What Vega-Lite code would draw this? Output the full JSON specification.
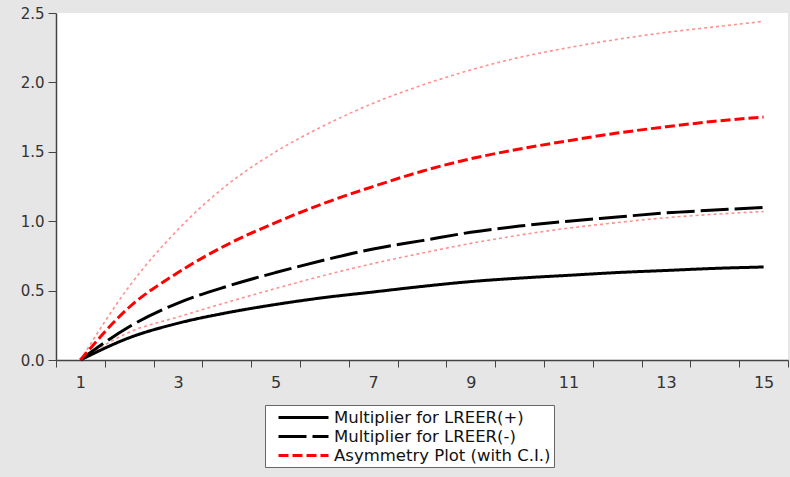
{
  "$schema": "https://vega.github.io/schema/vega-lite/v6.json",
  "width": 732,
  "height": 347,
  "autosize": "none",
  "padding": {"left": 56, "top": 13, "right": 2, "bottom": 117},
  "background": "#e6e6e6",
  "config": {
    "view": {"fill": "#ffffff", "stroke": null},
    "font": "DejaVu Sans",
    "legend": {
      "orient": "none",
      "legendX": 209,
      "legendY": 392,
      "symbolType": "M-3.125,0H3.125",
      "symbolSize": 256,
      "symbolStrokeWidth": 3,
      "symbolOffset": 26,
      "labelFont": "DejaVu Sans",
      "labelFontSize": 16.5,
      "labelColor": "#111111",
      "labelOffset": 21,
      "labelLimit": 400,
      "rowPadding": 1,
      "padding": 3,
      "strokeColor": "#666666",
      "fillColor": "#ffffff",
      "cornerRadius": 0
    }
  },
  "data": {
    "values": [
      {"x": 1, "plus": 0, "minus": 0, "asym": 0, "upper": 0, "lower": 0},
      {"x": 2, "plus": 0.16, "minus": 0.24, "asym": 0.38, "upper": 0.53, "lower": 0.20},
      {"x": 3, "plus": 0.265, "minus": 0.41, "asym": 0.63, "upper": 0.94, "lower": 0.31},
      {"x": 4, "plus": 0.34, "minus": 0.53, "asym": 0.83, "upper": 1.26, "lower": 0.415},
      {"x": 5, "plus": 0.40, "minus": 0.63, "asym": 0.99, "upper": 1.50, "lower": 0.515},
      {"x": 6, "plus": 0.45, "minus": 0.72, "asym": 1.13, "upper": 1.69, "lower": 0.61},
      {"x": 7, "plus": 0.49, "minus": 0.80, "asym": 1.25, "upper": 1.85, "lower": 0.695},
      {"x": 8, "plus": 0.53, "minus": 0.86, "asym": 1.36, "upper": 1.98, "lower": 0.77},
      {"x": 9, "plus": 0.565, "minus": 0.92, "asym": 1.45, "upper": 2.09, "lower": 0.84},
      {"x": 10, "plus": 0.59, "minus": 0.965, "asym": 1.52, "upper": 2.18, "lower": 0.90},
      {"x": 11, "plus": 0.61, "minus": 1.00, "asym": 1.58, "upper": 2.25, "lower": 0.95},
      {"x": 12, "plus": 0.63, "minus": 1.03, "asym": 1.635, "upper": 2.31, "lower": 0.99},
      {"x": 13, "plus": 0.645, "minus": 1.06, "asym": 1.68, "upper": 2.36, "lower": 1.025},
      {"x": 14, "plus": 0.66, "minus": 1.08, "asym": 1.72, "upper": 2.40, "lower": 1.05},
      {"x": 15, "plus": 0.67, "minus": 1.10, "asym": 1.75, "upper": 2.44, "lower": 1.07}
    ]
  },
  "encoding": {
    "x": {
      "field": "x",
      "type": "quantitative",
      "scale": {"domain": [0.5, 15.5], "nice": false, "zero": false},
      "axis": {
        "title": null,
        "grid": false,
        "values": [0.5, 1, 1.5, 2.5, 3, 3.5, 4.5, 5, 5.5, 6.5, 7, 7.5, 8.5, 9, 9.5, 10.5, 11, 11.5, 12.5, 13, 13.5, 14.5, 15, 15.5],
        "labelExpr": "datum.value % 2 == 1 ? format(datum.value, 'd') : ''",
        "tickOpacity": {"condition": {"test": "datum.value % 1 == 0", "value": 0}, "value": 1},
        "tickSize": 7,
        "tickColor": "#444444",
        "domainColor": "#444444",
        "domainWidth": 1.5,
        "labelPadding": 7,
        "labelFont": "DejaVu Sans",
        "labelFontSize": 16,
        "labelColor": "#333333",
        "labelFlush": false,
        "labelOverlap": false
      }
    },
    "y": {
      "field": "v",
      "type": "quantitative",
      "scale": {"domain": [0, 2.5], "nice": false},
      "axis": {
        "title": null,
        "grid": false,
        "values": [0, 0.5, 1, 1.5, 2, 2.5],
        "format": ".1f",
        "tickSize": 8,
        "tickColor": "#444444",
        "domainColor": "#444444",
        "domainWidth": 1.5,
        "labelPadding": 4,
        "labelFont": "DejaVu Sans",
        "labelFontSize": 15,
        "labelColor": "#333333"
      }
    }
  },
  "layer": [
    {
      "transform": [{"fold": ["upper", "lower"], "as": ["band", "v"]}],
      "mark": {"type": "line", "color": "#ff9090", "strokeWidth": 1.6, "strokeDash": [3, 3], "interpolate": "monotone"},
      "encoding": {"detail": {"field": "band", "type": "nominal"}}
    },
    {
      "transform": [{"fold": ["plus", "minus", "asym"], "as": ["s", "v"]}],
      "mark": {"type": "line", "strokeWidth": 3, "interpolate": "monotone"},
      "encoding": {
        "color": {
          "field": "s",
          "type": "nominal",
          "scale": {"domain": ["plus", "minus", "asym"], "range": ["#000000", "#000000", "#ff0000"]},
          "legend": {"title": null, "labelExpr": "datum.label == 'plus' ? 'Multiplier for LREER(+)' : datum.label == 'minus' ? 'Multiplier for LREER(-)' : 'Asymmetry Plot (with C.I.)'"}
        },
        "strokeDash": {
          "field": "s",
          "type": "nominal",
          "scale": {"domain": ["plus", "minus", "asym"], "range": [[1, 0], [28, 6], [10, 4]]},
          "legend": {"title": null, "labelExpr": "datum.label == 'plus' ? 'Multiplier for LREER(+)' : datum.label == 'minus' ? 'Multiplier for LREER(-)' : 'Asymmetry Plot (with C.I.)'"}
        }
      }
    }
  ]
}
